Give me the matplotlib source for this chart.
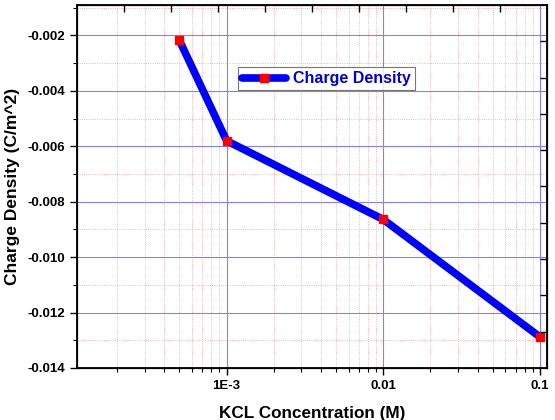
import numpy as np
import matplotlib
matplotlib.use("Agg")
import matplotlib.pyplot as plt
from matplotlib.ticker import LogLocator, FixedLocator, MultipleLocator, FuncFormatter

plt.rcParams['font.family'] = ['Liberation Sans', 'DejaVu Sans']
plt.rcParams['font.weight'] = 'bold'

# data
kcl_conc = [5e-4, 1e-3, 1e-2, 1e-1]
charge_density = [-0.00218, -0.0058, -0.00864, -0.01288]

x_ticks = [1e-3, 1e-2, 1e-1]
x_tick_labels = ['1E-3', '0.01', '0.1']

fig = plt.figure(figsize=(5.55, 4.2), dpi=100)
ax = fig.add_axes([77 / 555, 1 - 368 / 420, 470 / 555, 363 / 420])

ax.plot(kcl_conc, charge_density, color='#0000ff', lw=5.5, marker='s',
        markersize=6, markerfacecolor='red', markeredgecolor='red',
        solid_capstyle='round', label='Charge Density', zorder=3)

ax.set_xscale('log')
ax.set_xlim(10 ** -3.955, 10 ** -0.955)
ax.set_ylim(-0.014, -0.0009)

ax.xaxis.set_major_locator(FixedLocator(x_ticks))
ax.xaxis.set_major_formatter(FuncFormatter(lambda v, p: dict(zip(x_ticks, x_tick_labels)).get(v, '')))
ax.xaxis.set_minor_locator(LogLocator(base=10, subs=np.arange(2, 10)))
ax.xaxis.set_minor_formatter(FuncFormatter(lambda v, p: ''))
ax.yaxis.set_major_locator(MultipleLocator(0.002))
ax.yaxis.set_minor_locator(MultipleLocator(0.001))
ax.yaxis.set_major_formatter(FuncFormatter(lambda v, p: '%.3f' % v))

ax.grid(True, which='major', color='#8080ff', lw=0.8)
ax.grid(True, which='minor', color='#ff9999', lw=0.6, ls=':')

ax.tick_params(which='both', direction='out', top=False, right=False, labelsize=9.5)
ax.tick_params(which='major', length=5, width=1)
ax.tick_params(which='minor', length=3, width=0.8)
for s in ax.spines.values():
    s.set_linewidth(1.3)

# top and right axes with evenly spaced inward ticks, like the original
tx = ax.twiny()
tx.set_xlim(0, 10)
tx.set_xticks(np.arange(1, 10))
tx.tick_params(direction='in', length=5, width=1, labeltop=False)
ty = ax.twinx()
ty.set_ylim(0, 10)
ty.set_yticks(np.arange(1, 10))
ty.tick_params(direction='in', length=5, width=1, labelright=False)

ax.set_xlabel('KCL Concentration (M)', fontsize=12.3, fontweight='bold', labelpad=10)
ax.set_ylabel('Charge Density (C/m^2)', fontsize=12.5, fontweight='bold', labelpad=5)

leg = ax.legend(loc='upper left', bbox_to_anchor=(0.325, 0.85), fontsize=11.5,
                frameon=True, fancybox=False, edgecolor='#555555',
                handlelength=2.8, borderpad=0.25, handletextpad=0.4)
leg.get_frame().set_linewidth(0.8)
for t in leg.get_texts():
    t.set_color('#0000dd')
    t.set_fontweight('bold')

fig.savefig('out.png', dpi=100)
